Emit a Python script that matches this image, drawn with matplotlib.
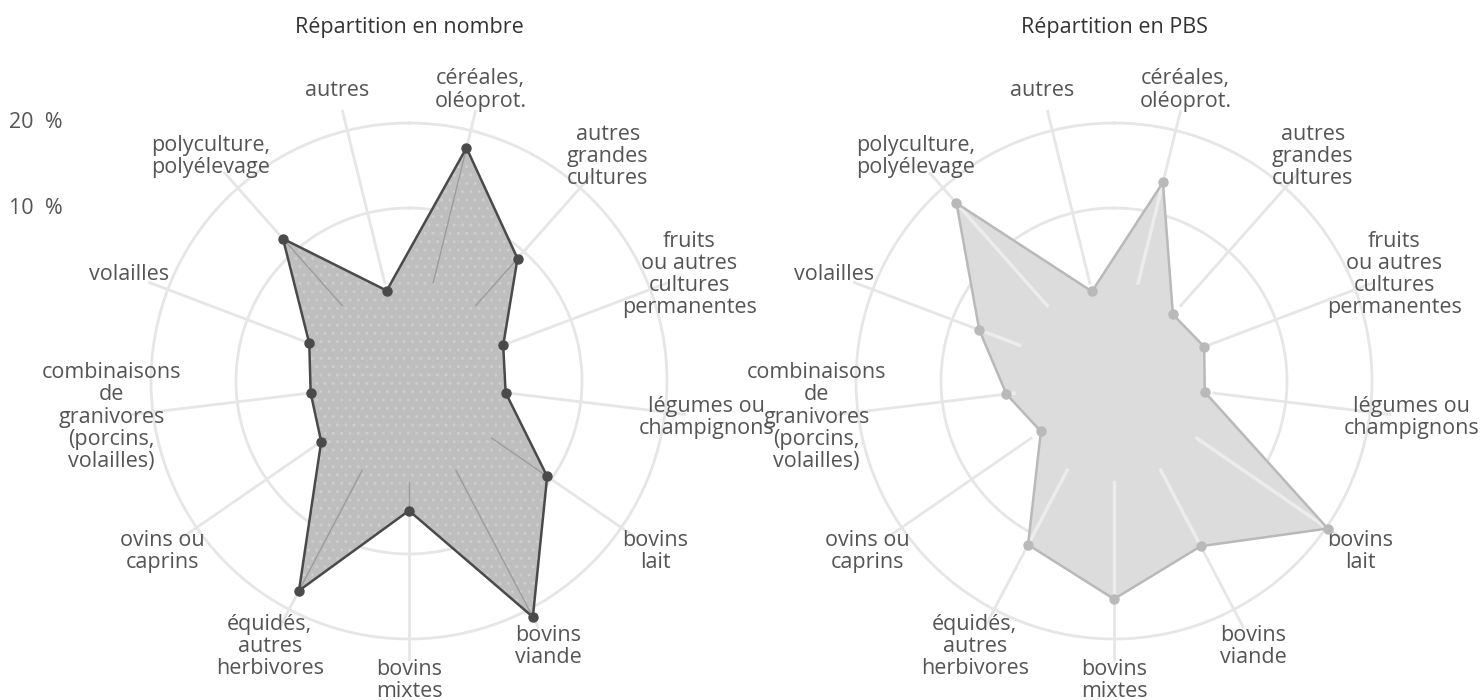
import numpy as np
import matplotlib.pyplot as plt

plt.rcParams['font.family'] = ['Open Sans', 'DejaVu Sans']

# catégories, dans le sens horaire à partir du haut
categories = [
    "céréales,\noléoprot.",
    "autres\ngrandes\ncultures",
    "fruits\nou autres\ncultures\npermanentes",
    "légumes ou\nchampignons",
    "bovins\nlait",
    "bovins\nviande",
    "bovins\nmixtes",
    "équidés,\nautres\nherbivores",
    "ovins ou\ncaprins",
    "combinaisons\nde\ngranivores\n(porcins,\nvolailles)",
    "volailles",
    "polyculture,\npolyélevage",
    "autres",
]
# parts en %
part_nombre = [17.9, 8.9, 1.5, 1.1, 9.4, 21.0, 4.9, 17.5, 2.2, 1.3, 2.2, 12.0, 0.6]
part_pbs = [13.7, 0.1, 1.0, 0.4, 20.2, 11.6, 15.3, 11.4, 0.1, 2.4, 6.6, 17.6, 0.5]
rticks = [10, 20]
titres = ["Répartition en nombre", "Répartition en PBS"]

W, H = 1484, 700
trou = 88.0      # rayon du "trou" central en pixels
px_par_pct = 8.5
rmax = 23.0
R = px_par_pct * (rmax + trou / px_par_pct)   # rayon des axes en pixels
centres = [(409, 381), (1114, 381)]

GRID = '#e6e6e6'
TXT = '#555555'
FS = 15.5

fig = plt.figure(figsize=(W / 100, H / 100), dpi=100)


def radar(cx, cy, vals, fill, edge, spoke_in, spoke_lw, hatch, hatch_col, titre, ticks):
    ax = fig.add_axes([(cx - R) / W, (H - cy - R) / H, 2 * R / W, 2 * R / H],
                      projection='polar')
    n = len(vals)
    theta = (np.arange(n) + 0.5) * 2 * np.pi / n
    ax.set_theta_zero_location('N')
    ax.set_theta_direction(-1)
    ax.set_ylim(0, rmax)
    ax.set_rorigin(-trou / px_par_pct)
    for sp in ax.spines.values():
        sp.set_color('none')
        sp.set_linewidth(0)
    ax.grid(False)
    ax.set_xticks([])
    ax.set_yticks([])
    ax.patch.set_visible(False)

    circ = np.linspace(0, 2 * np.pi, 361)
    for t in rticks:
        ax.plot(circ, np.full_like(circ, t), color=GRID, lw=2, zorder=1)
    for a in theta:
        ax.plot([a, a], [1.5, 22.3], color=GRID, lw=2, zorder=1)

    tt = np.append(theta, theta[0])
    vv = np.append(vals, vals[0])
    poly = ax.fill(tt, vv, facecolor=fill, edgecolor=hatch_col, hatch=hatch,
                   lw=0, zorder=2, clip_on=False)[0]
    # rayons visibles à travers le remplissage
    for a in theta:
        ln, = ax.plot([a, a], [1.5, 22.3], color=spoke_in, lw=spoke_lw, zorder=3)
        ln.set_clip_path(poly)
    ax.plot(tt, vv, color=edge, lw=1.8, zorder=4, clip_on=False)
    ax.plot(theta, vals, 'o', color=edge, ms=6.5, zorder=5, clip_on=False)

    for a, lab in zip(theta, categories):
        ax.text(a, 24.9, lab, ha='center', va='center', ma='center',
                fontsize=FS, color=TXT, linespacing=1.07)

    fig.text(cx / W, 1 - 28 / H, titre, ha='center', va='center',
             fontsize=FS, color='#333333')

    if ticks:
        for t in rticks:
            ax.annotate(f"{t}  %", xy=(0, t), xycoords='data',
                        xytext=(63 - cx, 0), textcoords='offset pixels',
                        ha='right', va='center', fontsize=FS, color=TXT)
    return ax


radar(*centres[0], part_nombre, '#bebebe', '#4a4a4a', '#9c9c9c', 1.0,
      '..', '#cdcdcd', titres[0], True)
radar(*centres[1], part_pbs, '#dcdcdc', '#b9b9b9', '#ececec', 2.5,
      None, '#dcdcdc', titres[1], False)

fig.savefig('out.png', dpi=100)
